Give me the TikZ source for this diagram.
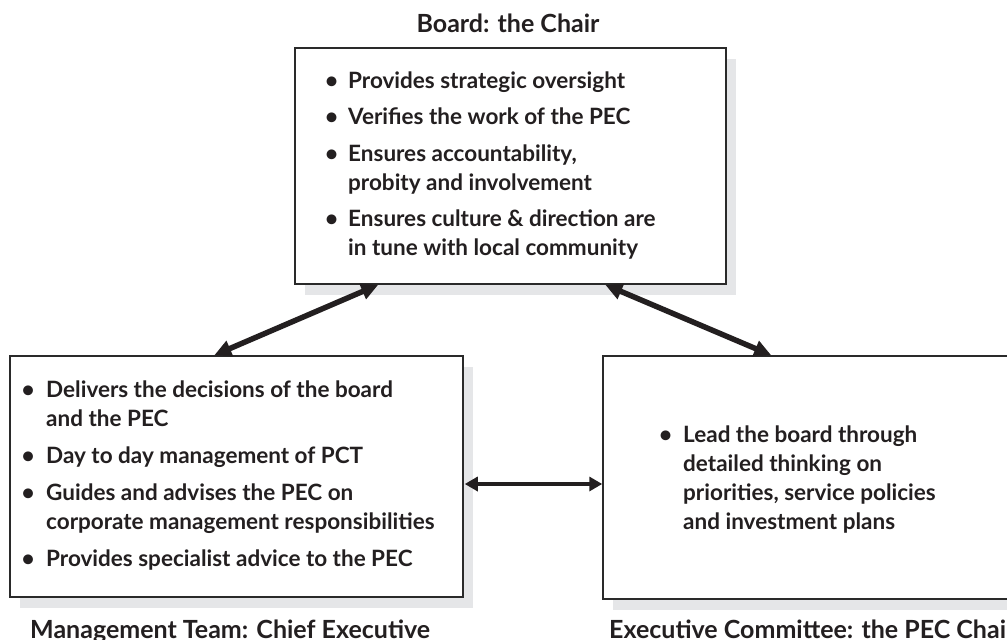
\documentclass[tikz,border=0pt]{standalone}
\usepackage{fontspec}
\setmainfont{Lato}
\usetikzlibrary{arrows.meta,shadows}

\definecolor{ink}{HTML}{231F20}
\definecolor{shade}{HTML}{E5E6E8}
\definecolor{frame}{HTML}{2A2A2A}

\newcommand{\bodyfont}{\fontsize{22.5}{29}\selectfont\bfseries}
\newcommand{\bl}[1]{\makebox[#1][l]{\textbullet}}

\tikzset{
  panel/.style={draw=frame, line width=1.5pt, fill=white, inner sep=0pt,
    general shadow={fill=shade, shadow xshift=10pt, shadow yshift=-11pt}},
  bullets/.style={anchor=base west, inner sep=0pt, text=ink, font=\bodyfont},
  caption/.style={text=ink, font=\fontsize{25}{30}\selectfont\bfseries, inner sep=0pt},
  link/.style={draw=ink, line width=5.5pt,
    {Triangle[length=17pt,width=16pt]}-{Triangle[length=17pt,width=16pt]}},
  hlink/.style={draw=ink, line width=4.5pt,
    {Triangle[length=13pt,width=14pt]}-{Triangle[length=13pt,width=14pt]}},
}

\begin{document}
\begin{tikzpicture}[x=1pt, y=-1pt]
  \clip (0,0) rectangle (1007,640);
  \fill[white] (0,0) rectangle (1007,640);

  % the three panels
  \node[panel, minimum width=431pt, minimum height=236pt] (board) at (510.5,166) {};
  \node[panel, minimum width=453pt, minimum height=241pt] (mgmt)  at (236.5,476.5) {};
  \node[panel, minimum width=427pt, minimum height=243pt] (pec)   at (816.5,477.5) {};

  % panel headings
  \node[caption, anchor=base] (boardcap) at (508,32) {Board: the Chair};
  \node[caption, anchor=base west] (mgmtcap) at (30,638) {Management Team: Chief Executive};
  \node[caption, anchor=base west] (peccap) at (609,638) {Executive Committee: the PEC Chair};

  % panel contents
  \node[bullets] (boardtxt) at (325,88) {%
    \begin{tabular}[t]{@{}l@{}l@{}}
      \bl{23pt} & Provides strategic oversight\\[7.5pt]
      \bl{23pt} & Verifies the work of the PEC\\[7.5pt]
      \bl{23pt} & Ensures accountability,\\
                & probity and involvement\\[7.5pt]
      \bl{23pt} & Ensures culture \& direction are\\
                & in tune with local community
    \end{tabular}};

  \node[bullets] (mgmttxt) at (21.5,397) {%
    \begin{tabular}[t]{@{}l@{}l@{}}
      \bl{24.5pt} & Delivers the decisions of the board\\
                  & and the PEC\\[8pt]
      \bl{24.5pt} & Day to day management of PCT\\[8pt]
      \bl{24.5pt} & Guides and advises the PEC on\\
                  & corporate management responsibilities\\[8pt]
      \bl{24.5pt} & Provides specialist advice to the PEC
    \end{tabular}};

  \node[bullets] (pectxt) at (659,442) {%
    \begin{tabular}[t]{@{}l@{}l@{}}
      \bl{24pt} & Lead the board through\\
                & detailed thinking on\\
                & priorities, service policies\\
                & and investment plans
    \end{tabular}};

  % two-way links between the panels
  \draw[link] ([xshift=205pt]mgmt.north west) -- ([xshift=84pt]board.south west);
  \draw[link] ([xshift=311pt]board.south west) -- ([xshift=169pt]pec.north west);
  \draw[hlink] ([xshift=1pt,yshift=-7.5pt]mgmt.east) -- ([yshift=-6.5pt]pec.west);
\end{tikzpicture}
\end{document}
